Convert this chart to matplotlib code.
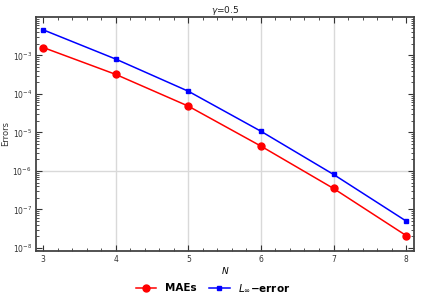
import numpy as np
import matplotlib.pyplot as plt
from matplotlib.ticker import MultipleLocator, LogLocator, NullFormatter

N = [3, 4, 5, 6, 7, 8]
mae = [1.6e-3, 3.2e-4, 4.8e-5, 4.4e-6, 3.5e-7, 2.1e-8]
linf = [4.6e-3, 8.0e-4, 1.17e-4, 1.07e-5, 8.1e-7, 5.0e-8]

fig = plt.figure(figsize=(4.26, 2.96), dpi=100)
ax = fig.add_axes([0.0845, 0.152, 0.8875, 0.791])

# grid lines only at a few places, like the original
for x in [4, 5, 6, 7]:
    ax.axvline(x, color='#d9d9d9', lw=1, zorder=0)
ax.axhline(1e-6, color='#d9d9d9', lw=1, zorder=0)

ax.plot(N, mae, color='red', marker='o', ms=5, lw=1.1, label='MAEs')
ax.plot(N, linf, color='blue', marker='s', ms=3.2, lw=1.1, label=r'$\boldsymbol{L_\infty}$$\mathbf{-error}$')

ax.set_yscale('log')
ax.set_xlim(2.9, 8.11)
ax.set_ylim(10**-8.08, 10**-2.0)
ax.set_xticks(N)
ax.xaxis.set_minor_locator(MultipleLocator(0.2))
ax.set_yticks([1e-3, 1e-4, 1e-5, 1e-6, 1e-7, 1e-8])
ax.yaxis.set_minor_locator(LogLocator(base=10, subs=np.arange(2, 10)))
ax.yaxis.set_minor_formatter(NullFormatter())

ax.tick_params(which='both', direction='in', top=True, right=True,
               labelsize=5.5, colors='#333333', pad=3)
ax.tick_params(which='major', length=4, width=0.8)
ax.tick_params(which='minor', length=2, width=0.6)
for s in ax.spines.values():
    s.set_color('#444444')
    s.set_linewidth(1.3)

ax.set_title(r'$\gamma$=0.5', fontsize=6.5, pad=2, color='#222222')
ax.set_xlabel('N', fontsize=6.5, style='italic', labelpad=2)
ax.set_ylabel('Errors', fontsize=6, labelpad=2, color='#333333')

fig.legend(loc='lower center', bbox_to_anchor=(0.5, -0.025), ncol=2, frameon=False,
           prop={'weight': 'bold', 'size': 7.5}, handlelength=2.0, columnspacing=1.2)

fig.savefig('out.png', dpi=100)
